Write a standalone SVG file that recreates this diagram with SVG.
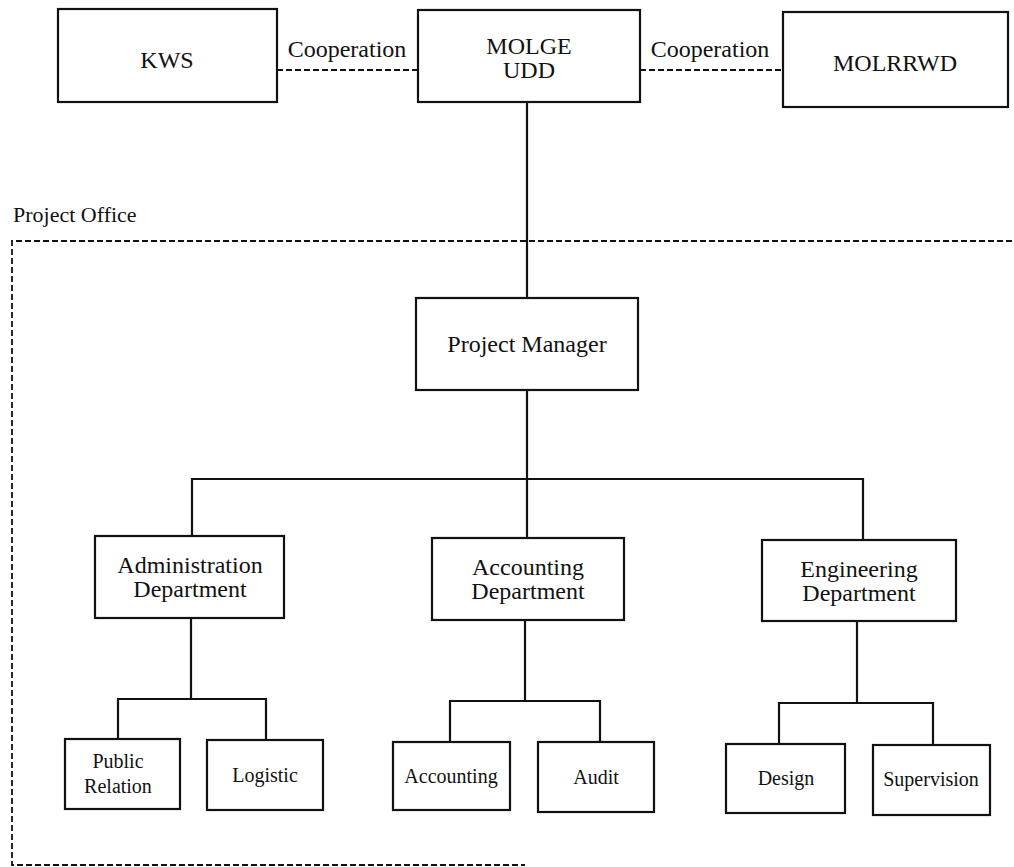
<svg xmlns="http://www.w3.org/2000/svg" width="1014" height="867" viewBox="0 0 1014 867">
<style>
.box{fill:#fff;stroke:#111;stroke-width:2.2}
.ln{fill:none;stroke:#111;stroke-width:2.2}
.dash{fill:none;stroke:#111;stroke-width:1.8;stroke-dasharray:6 3}
text{font-family:"Liberation Serif","Times New Roman",serif;fill:#111;text-anchor:middle}
.t{font-size:24px}
.s{font-size:20px}
.lbl{font-size:22px;text-anchor:start}
</style>
<rect width="1014" height="867" fill="#fff"/>
<g id="project-office">
<path class="dash" d="M1012 241 H12 V865 H525"/>
<text class="lbl" x="13" y="222">Project Office</text>
</g>
<g id="connectors">
<path class="dash" d="M277 70 H418"/>
<path class="dash" d="M640 70 H783"/>
<text class="t" x="347" y="57">Cooperation</text>
<text class="t" x="710" y="57">Cooperation</text>
<path class="ln" d="M527 102 V298"/>
<path class="ln" d="M527 390 V538"/>
<path class="ln" d="M192 536 V479 H863 V540"/>
<path class="ln" d="M191 618 V699"/>
<path class="ln" d="M118 739 V699 H266 V740"/>
<path class="ln" d="M525 620 V701"/>
<path class="ln" d="M450 742 V701 H600 V742"/>
<path class="ln" d="M857 621 V703"/>
<path class="ln" d="M779 744 V703 H933 V745"/>
</g>
<g id="kws">
<rect class="box" x="58" y="9" width="219" height="93"/>
<text class="t" x="167" y="68">KWS</text>
</g>
<g id="molge">
<rect class="box" x="418" y="10" width="222" height="92"/>
<text class="t" x="529" y="54">MOLGE</text>
<text class="t" x="529" y="78">UDD</text>
</g>
<g id="molrrwd">
<rect class="box" x="783" y="12" width="225" height="95"/>
<text class="t" x="895" y="71">MOLRRWD</text>
</g>
<g id="pm">
<rect class="box" x="416" y="298" width="222" height="92"/>
<text class="t" x="527" y="352">Project Manager</text>
</g>
<g id="admin">
<rect class="box" x="95" y="536" width="189" height="82"/>
<text class="t" x="190" y="573">Administration</text>
<text class="t" x="190" y="597">Department</text>
</g>
<g id="accdept">
<rect class="box" x="432" y="538" width="192" height="82"/>
<text class="t" x="528" y="575">Accounting</text>
<text class="t" x="528" y="599">Department</text>
</g>
<g id="engdept">
<rect class="box" x="762" y="540" width="194" height="81"/>
<text class="t" x="859" y="577">Engineering</text>
<text class="t" x="859" y="601">Department</text>
</g>
<g id="pr">
<rect class="box" x="65" y="739" width="115" height="70"/>
<text class="s" x="118" y="768">Public</text>
<text class="s" x="118" y="793">Relation</text>
</g>
<g id="logistic">
<rect class="box" x="207" y="740" width="116" height="70"/>
<text class="s" x="265" y="782">Logistic</text>
</g>
<g id="accounting">
<rect class="box" x="393" y="742" width="117" height="68"/>
<text class="s" x="451" y="783">Accounting</text>
</g>
<g id="audit">
<rect class="box" x="538" y="742" width="116" height="70"/>
<text class="s" x="596" y="784">Audit</text>
</g>
<g id="design">
<rect class="box" x="726" y="744" width="119" height="69"/>
<text class="s" x="786" y="785">Design</text>
</g>
<g id="supervision">
<rect class="box" x="873" y="745" width="117" height="70"/>
<text class="s" x="931" y="786">Supervision</text>
</g>
</svg>
